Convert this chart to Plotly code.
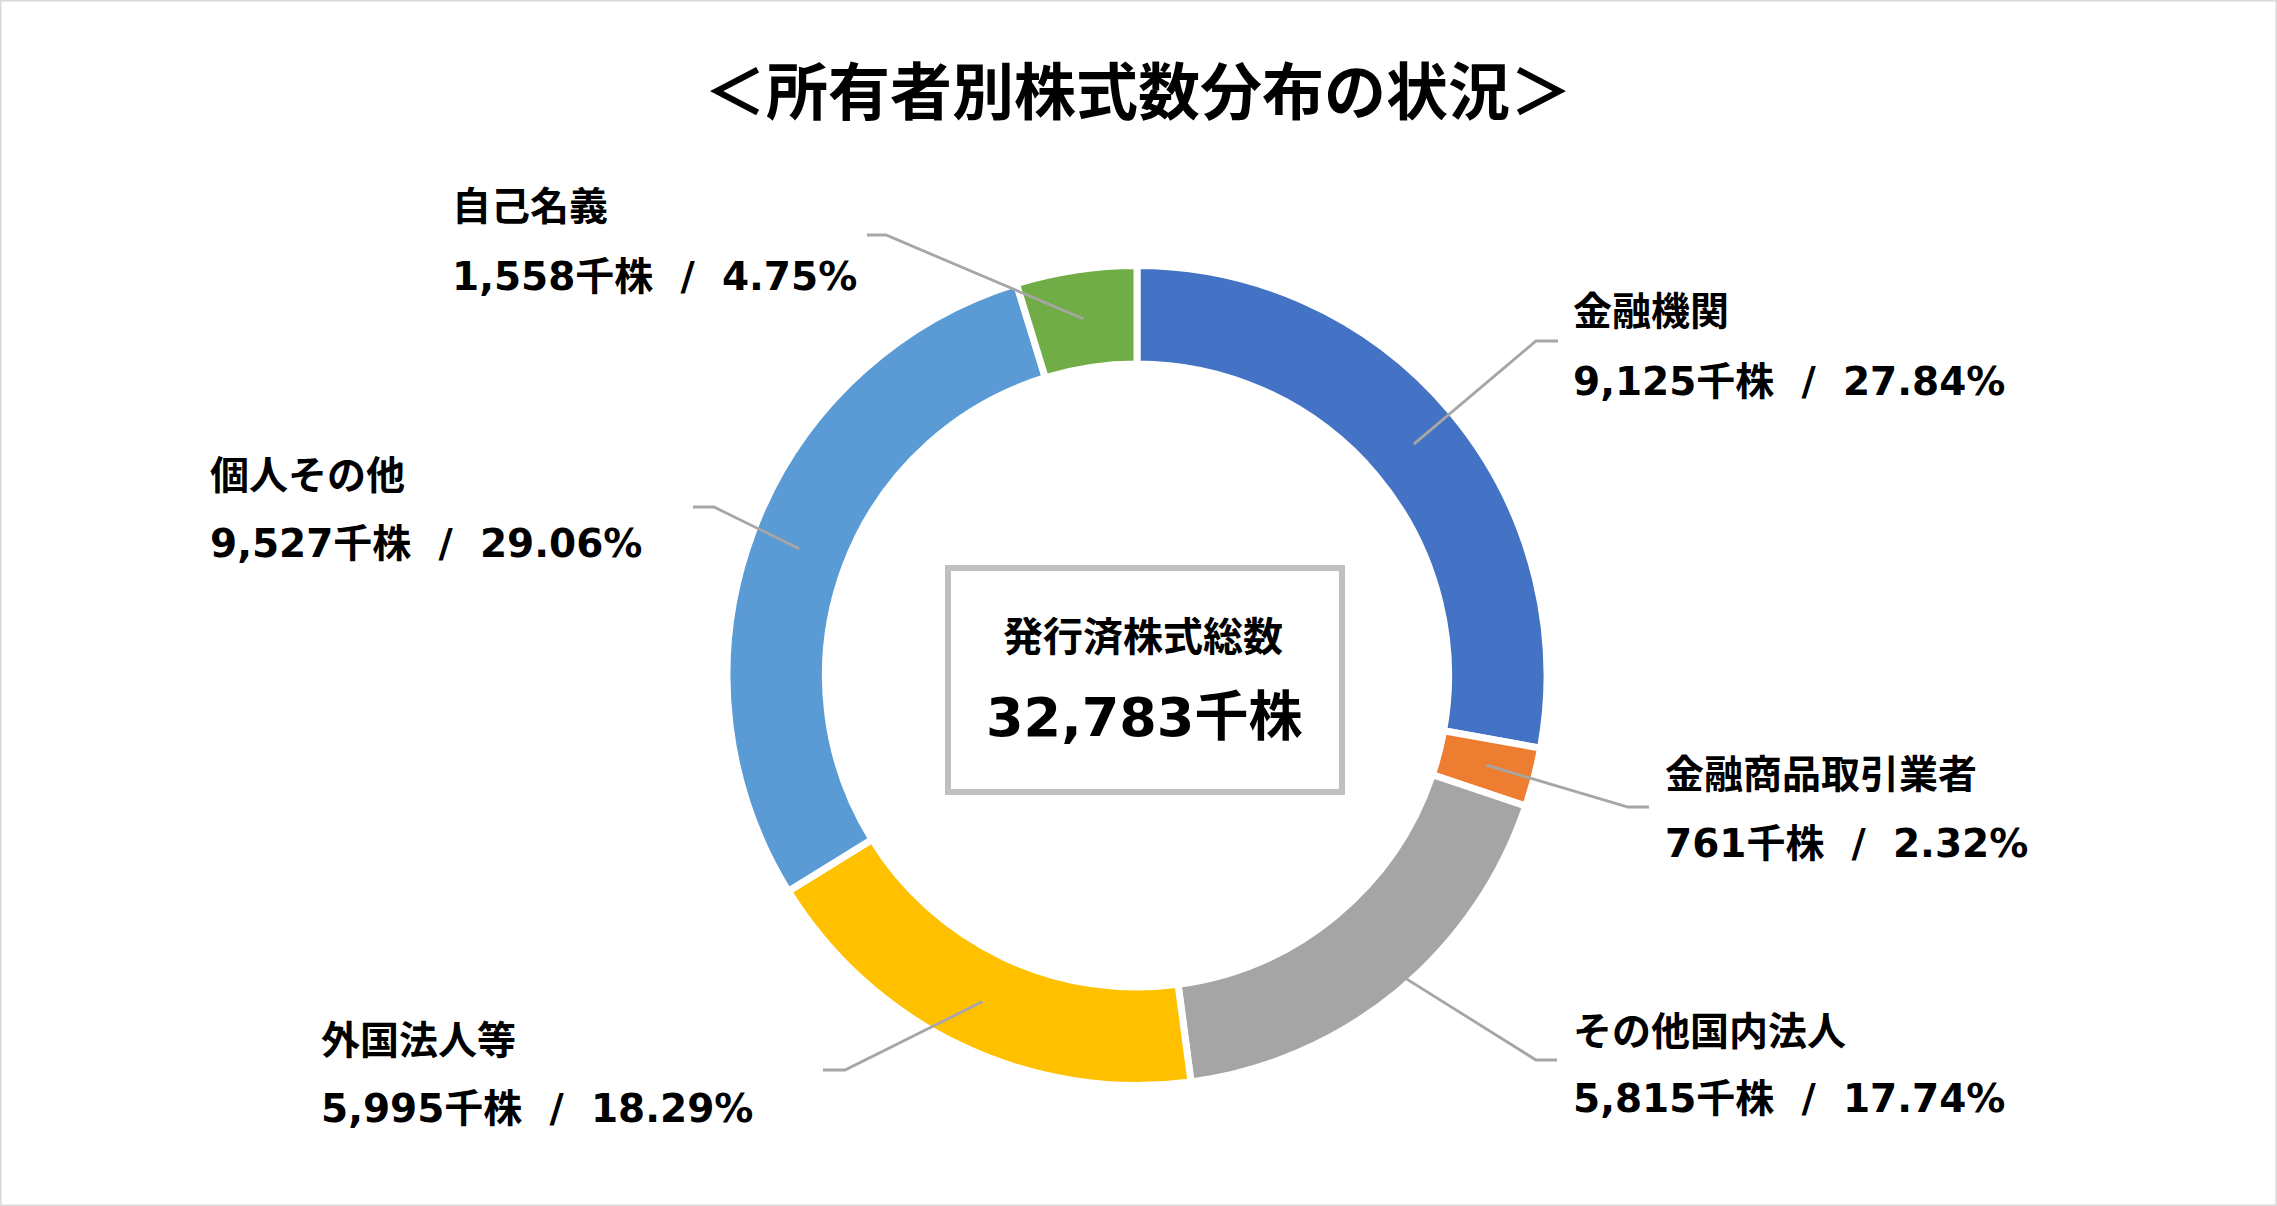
import math
import plotly.graph_objects as go

W, H = 2277, 1206

categories = ["金融機関", "金融商品取引業者", "その他国内法人", "外国法人等", "個人その他", "自己名義"]
shares_k = [9125, 761, 5815, 5995, 9527, 1558]
percents = [27.84, 2.32, 17.74, 18.29, 29.06, 4.75]
colors = ["#4472C4", "#ED7D31", "#A5A5A5", "#FFC000", "#5B9BD5", "#70AD47"]
total_k = 32783

title_text = "＜所有者別株式数分布の状況＞"
center_title = "発行済株式総数"

# label layout (pixel positions): name/value left x, name y, value y, leader elbow, leader end
label_x = [1571, 1663, 1571, 319, 208, 450]
name_y = [311, 774, 1031, 1040, 475, 206]
value_y = [381, 843, 1098, 1108, 544, 276]
elbow = [(1536, 341), (1628, 807), (1536, 1060), (845, 1070), (714, 507), (886, 235)]
stub_end = [(1558, 341), (1649, 807), (1557, 1060), (823, 1070), (693, 507), (867, 235)]

CX, CY, R = 1137, 675.5, 410
HOLE = 0.76

FONT = "DejaVu Sans, Noto Sans CJK JP"


def px(x):
    return x / W


def py(y):
    return 1 - y / H


fig = go.Figure()
fig.add_trace(go.Pie(
    labels=categories,
    values=shares_k,
    sort=False,
    direction="clockwise",
    rotation=0,
    hole=HOLE,
    marker=dict(colors=colors, line=dict(color="white", width=7)),
    textinfo="none",
    hoverinfo="skip",
    showlegend=False,
    domain=dict(x=[px(CX - R), px(CX + R)], y=[py(CY + R), py(CY - R)]),
))

shapes = []
annotations = []

# leader lines from slice mid-angles
tot = sum(shares_k)
cum = 0
rmid = R * (1 + HOLE) / 2
for i, v in enumerate(shares_k):
    mid = (cum + v / 2) / tot * 2 * math.pi
    cum += v
    sx = CX + rmid * math.sin(mid)
    sy = CY - rmid * math.cos(mid)
    ex, ey = elbow[i]
    tx, ty = stub_end[i]
    path = f"M {px(sx)} {py(sy)} L {px(ex)} {py(ey)} L {px(tx)} {py(ty)}"
    shapes.append(dict(type="path", xref="paper", yref="paper", path=path,
                       line=dict(color="#A6A6A6", width=2.8)))
    annotations.append(dict(x=px(label_x[i]), y=py(name_y[i]), xref="paper", yref="paper",
                            text=f"<b>{categories[i]}</b>", showarrow=False,
                            xanchor="left", yanchor="middle",
                            font=dict(family=FONT, size=39, color="black")))
    annotations.append(dict(x=px(label_x[i]), y=py(value_y[i]), xref="paper", yref="paper",
                            text=f"<b>{v:,}千株&nbsp; /&nbsp; {percents[i]:.2f}%</b>", showarrow=False,
                            xanchor="left", yanchor="middle",
                            font=dict(family=FONT, size=39, color="black")))

# center box
shapes.append(dict(type="rect", xref="paper", yref="paper",
                   x0=px(948), x1=px(1342), y0=py(568), y1=py(792),
                   line=dict(color="#BFBFBF", width=6), fillcolor="white", layer="above"))
annotations.append(dict(x=px(1143), y=py(637), xref="paper", yref="paper",
                        text=f"<b>{center_title}</b>", showarrow=False,
                        xanchor="center", yanchor="middle",
                        font=dict(family=FONT, size=40, color="black")))
annotations.append(dict(x=px(1144), y=py(717), xref="paper", yref="paper",
                        text=f"<b>{total_k:,}千株</b>", showarrow=False,
                        xanchor="center", yanchor="middle",
                        font=dict(family=FONT, size=54, color="black")))

# title
annotations.append(dict(x=px(1138), y=py(93), xref="paper", yref="paper",
                        text=f"<b>{title_text}</b>", showarrow=False,
                        xanchor="center", yanchor="middle",
                        font=dict(family=FONT, size=62, color="black")))

# outer border
shapes.append(dict(type="rect", xref="paper", yref="paper", x0=0, x1=1, y0=0, y1=1,
                   line=dict(color="#D9D9D9", width=3)))

fig.update_layout(
    width=W, height=H,
    margin=dict(l=0, r=0, t=0, b=0),
    paper_bgcolor="white", plot_bgcolor="white",
    shapes=shapes, annotations=annotations,
)

fig.write_html("out.html")
